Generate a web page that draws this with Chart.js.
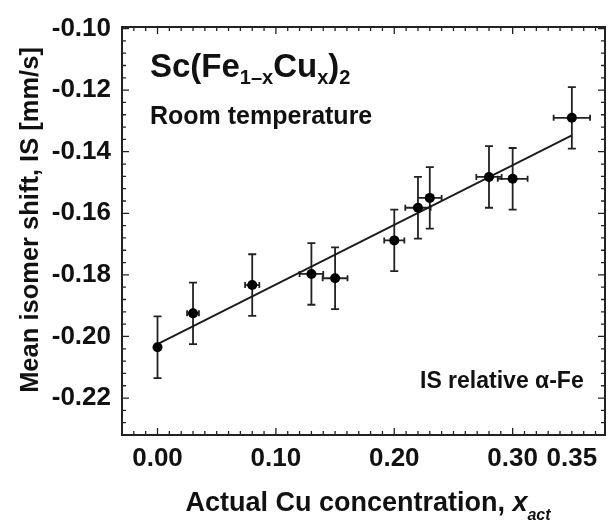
<!DOCTYPE html>
<html>
<head>
<meta charset="utf-8">
<title>Sc(Fe1-xCux)2 isomer shift</title>
<script src="https://cdn.jsdelivr.net/npm/chart.js@4.4.1/dist/chart.umd.min.js"></script>
<style>
  html, body { margin: 0; padding: 0; background: #fff; }
  #wrap { width: 610px; height: 522px; position: relative; }
</style>
</head>
<body>
<div id="wrap"><canvas id="isChart"></canvas></div>
<script>
// measured Cu content and mean isomer shift (mm/s, relative to alpha-Fe)
const xAct  = [0.00, 0.03, 0.08, 0.13, 0.15, 0.20, 0.22, 0.23, 0.28, 0.30, 0.35];
const isVal = [-0.2035, -0.1925, -0.1833, -0.1797, -0.1811, -0.1688, -0.1582, -0.1550, -0.1482, -0.1488, -0.1290];
const xErr  = [0.000, 0.005, 0.006, 0.010, 0.0105, 0.0085, 0.0107, 0.010, 0.0107, 0.0126, 0.0154];
const isErr = [0.010, 0.010, 0.010, 0.010, 0.010, 0.010, 0.010, 0.010, 0.010, 0.010, 0.010];

// linear fit end points
const fitX = [0.00, 0.35];
const fitY = [-0.2025, -0.1347];

const xTickValues = [0.00, 0.10, 0.20, 0.30, 0.35];
const yTickValues = [-0.10, -0.12, -0.14, -0.16, -0.18, -0.20, -0.22];

const FONT = "'Liberation Sans', Arial, sans-serif";
const INK = '#111';

// error bars with caps, drawn under the points
const errorBars = {
  id: 'errorBars',
  beforeDatasetsDraw(chart) {
    const { ctx, scales: { x, y } } = chart;
    ctx.save();
    ctx.strokeStyle = '#222';
    ctx.lineWidth = 1.8;
    ctx.beginPath();
    xAct.forEach((xv, i) => {
      const px = x.getPixelForValue(xv);
      const py = y.getPixelForValue(isVal[i]);
      const yTop = y.getPixelForValue(isVal[i] + isErr[i]);
      const yBot = y.getPixelForValue(isVal[i] - isErr[i]);
      ctx.moveTo(px, yTop); ctx.lineTo(px, yBot);
      ctx.moveTo(px - 4, yTop); ctx.lineTo(px + 4, yTop);
      ctx.moveTo(px - 4, yBot); ctx.lineTo(px + 4, yBot);
      if (xErr[i] > 0) {
        const xL = x.getPixelForValue(xv - xErr[i]);
        const xR = x.getPixelForValue(xv + xErr[i]);
        ctx.moveTo(xL, py); ctx.lineTo(xR, py);
        ctx.moveTo(xL, py - 3); ctx.lineTo(xL, py + 3);
        ctx.moveTo(xR, py - 3); ctx.lineTo(xR, py + 3);
      }
    });
    ctx.stroke();
    ctx.restore();
  }
};

// boxed frame with inward major/minor ticks on all four sides
const frameTicks = {
  id: 'frameTicks',
  afterDatasetsDraw(chart) {
    const { ctx, chartArea: a, scales: { x, y } } = chart;
    ctx.save();
    ctx.strokeStyle = '#222';
    ctx.lineWidth = 1.3;
    ctx.beginPath();
    for (let k = -3; k <= 37; k++) {
      const px = x.getPixelForValue(k / 100);
      if (px < a.left + 1 || px > a.right - 1) continue;
      const len = (k % 10 === 0) ? 7 : 4;
      ctx.moveTo(px, a.bottom); ctx.lineTo(px, a.bottom - len);
      ctx.moveTo(px, a.top); ctx.lineTo(px, a.top + len);
    }
    for (let k = 25; k <= 58; k++) {
      const py = y.getPixelForValue(-k * 0.004);
      if (py < a.top + 1 || py > a.bottom - 1) continue;
      const len = (k % 5 === 0) ? 7 : 4;
      ctx.moveTo(a.left, py); ctx.lineTo(a.left + len, py);
      ctx.moveTo(a.right, py); ctx.lineTo(a.right - len, py);
    }
    ctx.stroke();
    ctx.lineWidth = 2;
    ctx.strokeRect(a.left, a.top, a.right - a.left, a.bottom - a.top);
    ctx.restore();
  }
};

// axis titles and in-plot labels, including sub/superscripts
const labels = {
  id: 'labels',
  afterDraw(chart) {
    const { ctx, chartArea: a } = chart;
    ctx.save();
    ctx.fillStyle = INK;
    ctx.textBaseline = 'alphabetic';
    ctx.textAlign = 'left';

    const fontOf = (size, style) => (style || 'bold') + ' ' + size + 'px ' + FONT;
    const widthOf = (parts) => parts.reduce((w, [t, size, , style]) => {
      ctx.font = fontOf(size, style);
      return w + ctx.measureText(t).width;
    }, 0);
    const run = (parts, x0, y0) => {
      let cx = x0;
      parts.forEach(([t, size, dy, style]) => {
        ctx.font = fontOf(size, style);
        ctx.fillText(t, cx, y0 + dy);
        cx += ctx.measureText(t).width;
      });
    };

    run([['Sc(Fe', 33, 0], ['1\u2013x', 20, 7], ['Cu', 33, 0], ['x', 20, 7], [')', 33, 0], ['2', 20, 7]], a.left + 28, 77);
    run([['Room temperature', 25, 0]], a.left + 28, 124);
    run([['IS relative \u03b1-Fe', 23, 0]], 420, 388);

    // x axis title, centred under the plot
    const xTitle = [['Actual Cu concentration, ', 27, 0], ['x', 27, 0, 'italic bold'], ['act', 16, 9, 'italic bold']];
    run(xTitle, 368 - widthOf(xTitle) / 2, 511);

    // y axis title
    ctx.translate(38, 220);
    ctx.rotate(-Math.PI / 2);
    ctx.textAlign = 'center';
    ctx.font = fontOf(25.5);
    ctx.fillText('Mean isomer shift, IS [mm/s]', 0, 0);
    ctx.restore();
  }
};

new Chart(document.getElementById('isChart'), {
  type: 'scatter',
  data: {
    datasets: [
      {
        label: 'IS',
        data: xAct.map((v, i) => ({ x: v, y: isVal[i] })),
        pointRadius: 5,
        pointHoverRadius: 5,
        backgroundColor: '#000',
        borderColor: '#000',
        borderWidth: 0,
        order: 1
      },
      {
        type: 'line',
        label: 'fit',
        data: fitX.map((v, i) => ({ x: v, y: fitY[i] })),
        borderColor: '#1a1a1a',
        borderWidth: 1.8,
        pointRadius: 0,
        fill: false,
        order: 2
      }
    ]
  },
  options: {
    animation: false,
    responsive: true,
    maintainAspectRatio: false,
    layout: { padding: { left: 0, top: 27, right: 3, bottom: 0 } },
    plugins: { legend: { display: false }, tooltip: { enabled: false } },
    scales: {
      x: {
        type: 'linear',
        min: -0.03,
        max: 0.378,
        grid: { display: false, drawTicks: false },
        border: { display: false },
        afterBuildTicks: (s) => { s.ticks = xTickValues.map(v => ({ value: v })); },
        afterFit: (s) => { s.height = 87; },
        ticks: {
          autoSkip: false,
          maxRotation: 0,
          padding: 8,
          color: INK,
          font: { family: FONT, size: 26, weight: 'bold' },
          callback: (v) => Number(v).toFixed(2)
        }
      },
      y: {
        type: 'linear',
        min: -0.232,
        max: -0.0995,
        grid: { display: false, drawTicks: false },
        border: { display: false },
        afterBuildTicks: (s) => { s.ticks = yTickValues.map(v => ({ value: v })); },
        afterFit: (s) => { s.width = 122; },
        ticks: {
          padding: 11,
          color: INK,
          font: { family: FONT, size: 26, weight: 'bold' },
          callback: (v) => Number(v).toFixed(2)
        }
      }
    }
  },
  plugins: [errorBars, frameTicks, labels]
});
</script>
</body>
</html>
